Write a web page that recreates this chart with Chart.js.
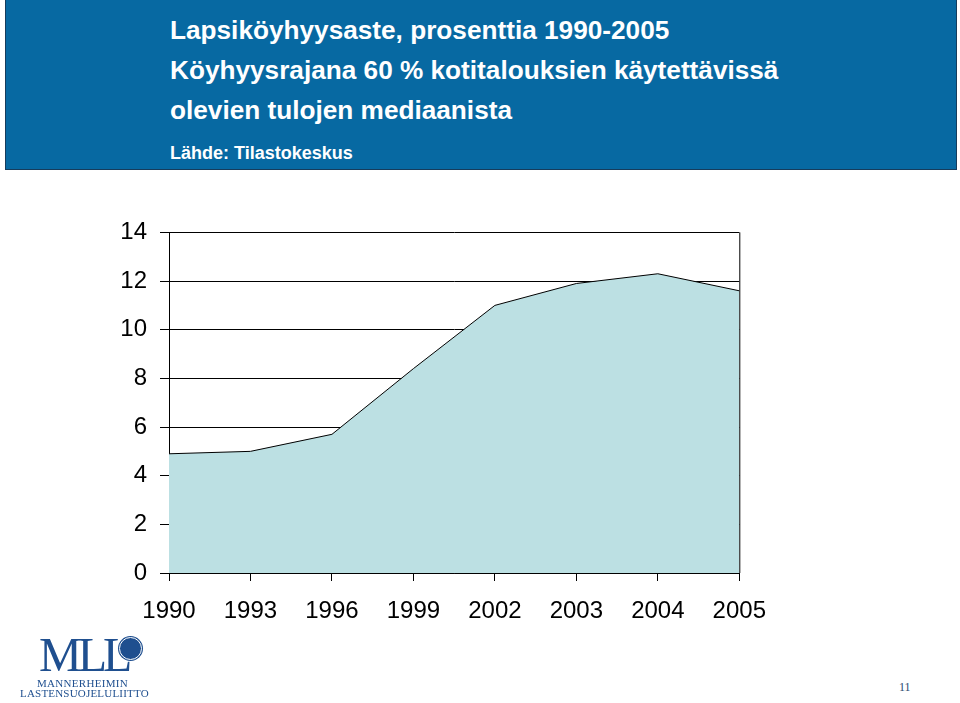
<!DOCTYPE html>
<html lang="fi">
<head>
<meta charset="utf-8">
<title>Lapsiköyhyysaste</title>
<script src="https://cdn.jsdelivr.net/npm/chart.js@4.4.1/dist/chart.umd.min.js"></script>
<style>
    html, body {
        margin: 0;
        padding: 0;
        background: #ffffff;
        width: 960px;
        height: 703px;
        overflow: hidden;
        position: relative;
        font-family: "Liberation Sans", Arial, sans-serif;
    }
    .header {
        position: absolute;
        left: 5px;
        top: 0;
        width: 950px;
        height: 169px;
        background: #0769a2;
        border: 1px solid #163c5c;
        border-top: none;
    }
    .header div {
        position: absolute;
        left: 164px;
        color: #ffffff;
        font-weight: bold;
        white-space: nowrap;
        line-height: 1;
    }
    .t1 { top: 17px; font-size: 26.2px; }
    .t2 { top: 57px; font-size: 26.2px; }
    .t3 { top: 97px; font-size: 26.2px; }
    .src { top: 144px; font-size: 18px; }
    #chartBox {
        position: absolute;
        left: 0;
        top: 205px;
        width: 782px;
        height: 428px;
    }
    .logo {
        position: absolute;
        left: 16px;
        top: 628px;
        width: 140px;
        height: 72px;
        color: #1f4f8f;
        font-family: "Liberation Serif", "DejaVu Serif", serif;
    }
    .logo .mll {
        position: absolute;
        left: 23px;
        top: 3px;
        font-size: 48px;
        letter-spacing: -4px;
        line-height: 1;
    }
    .logo .emblem {
        position: absolute;
        left: 103px;
        top: 9px;
        width: 21px;
        height: 21px;
        border-radius: 50%;
        background: #1f4f8f;
        border: 1px solid #ffffff;
        box-shadow: 0 0 0 1px #1f4f8f;
    }
    .logo .n1 {
        position: absolute;
        left: 21px;
        top: 49px;
        font-size: 11px;
        letter-spacing: 0.3px;
    }
    .logo .n2 {
        position: absolute;
        left: 4px;
        top: 59px;
        font-size: 11px;
        letter-spacing: 0.2px;
    }
    .pagenum {
        position: absolute;
        left: 899px;
        top: 680px;
        font-family: "Liberation Serif", "DejaVu Serif", serif;
        font-size: 12px;
        color: #2b4a70;
    }
</style>
</head>
<body>
<div class="header">
    <div class="t1">Lapsiköyhyysaste, prosenttia 1990-2005</div>
    <div class="t2">Köyhyysrajana 60 % kotitalouksien käytettävissä</div>
    <div class="t3">olevien tulojen mediaanista</div>
    <div class="src">Lähde: Tilastokeskus</div>
</div>

<div id="chartBox"><canvas id="chart"></canvas></div>

<div class="logo">
    <div class="mll">MLL</div>
    <div class="emblem"></div>
    <div class="n1">MANNERHEIMIN</div>
    <div class="n2">LASTENSUOJELULIITTO</div>
</div>
<div class="pagenum">11</div>

<script>
const years = ['1990', '1993', '1996', '1999', '2002', '2003', '2004', '2005'];
const povertyRate = [4.9, 5.0, 5.7, 8.4, 11.0, 11.9, 12.3, 11.6];
const yTicks = [0, 2, 4, 6, 8, 10, 12, 14];

const tickFont = {
    family: '"Liberation Sans", Arial, sans-serif',
    size: 24
};

// right edge of the plot box
const frameRight = {
    id: 'frameRight',
    afterDraw(chart) {
        const { ctx, chartArea } = chart;
        ctx.save();
        ctx.strokeStyle = '#000000';
        ctx.lineWidth = 1;
        ctx.beginPath();
        ctx.moveTo(chartArea.right + 0.5, chartArea.top);
        ctx.lineTo(chartArea.right + 0.5, chartArea.bottom);
        ctx.stroke();
        ctx.restore();
    }
};

const ctx = document.getElementById('chart').getContext('2d');
new Chart(ctx, {
    type: 'line',
    data: {
        labels: years,
        datasets: [
            {
                label: 'Lapsiköyhyysaste',
                data: povertyRate,
                fill: 'origin',
                backgroundColor: '#bce0e3',
                borderColor: '#000000',
                borderWidth: 1,
                tension: 0,
                pointRadius: 0
            }
        ]
    },
    options: {
        responsive: true,
        maintainAspectRatio: false,
        animation: false,
        layout: {
            padding: { top: 14, right: 40, bottom: 0, left: 0 }
        },
        scales: {
            x: {
                offset: false,
                grid: {
                    drawOnChartArea: false,
                    drawTicks: true,
                    tickLength: 8,
                    color: '#000000'
                },
                border: { color: '#000000', width: 1 },
                ticks: {
                    color: '#000000',
                    font: tickFont,
                    padding: 16,
                    maxRotation: 0,
                    autoSkip: false
                },
                afterFit: scale => {
                    scale.height = 60;
                }
            },
            y: {
                min: 0,
                max: 14,
                afterBuildTicks: scale => {
                    scale.ticks = yTicks.map(v => ({ value: v }));
                },
                grid: {
                    color: '#000000',
                    tickLength: 9,
                    drawTicks: true
                },
                border: { color: '#000000', width: 1 },
                ticks: {
                    color: '#000000',
                    font: tickFont,
                    padding: 13
                },
                afterFit: scale => {
                    scale.width = 169;
                }
            }
        },
        plugins: {
            legend: { display: false },
            tooltip: { enabled: false }
        }
    },
    plugins: [frameRight]
});
</script>
</body>
</html>
